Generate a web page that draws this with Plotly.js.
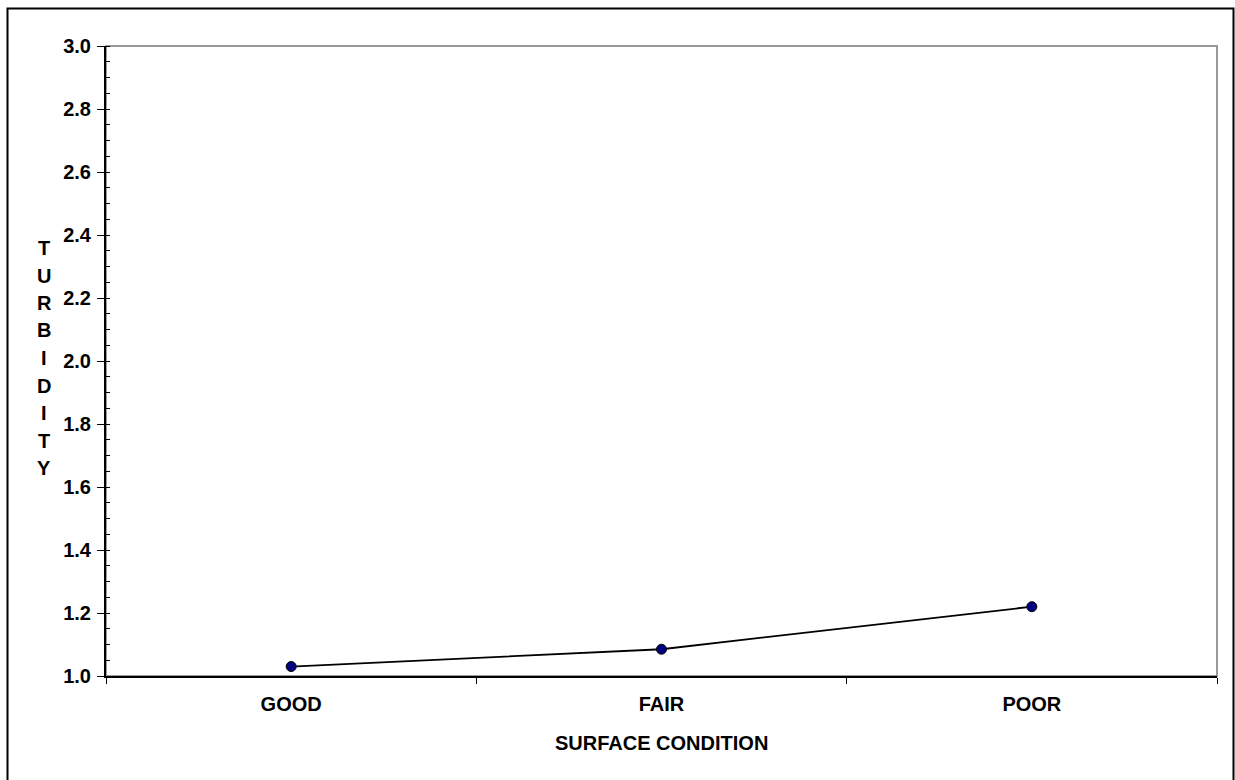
<!DOCTYPE html>
<html>
<head>
<meta charset="utf-8">
<script src="https://cdn.plot.ly/plotly-3.0.1.min.js"></script>
<style>
html,body{margin:0;padding:0;background:#fff;}
#chart{width:1235px;height:780px;}
</style>
</head>
<body>
<div id="chart"></div>
<script>
const categories = ["GOOD", "FAIR", "POOR"];
const turbidity = [1.03, 1.085, 1.22];
const xTitle = "SURFACE CONDITION";
const yTitle = "TURBIDITY";

const FONT = "Liberation Sans, Arial, sans-serif";
const FS = 20;

const trace = {
  x: categories,
  y: turbidity,
  type: "scatter",
  mode: "lines+markers",
  line: {color: "#000000", width: 1.8},
  marker: {color: "#000080", size: 10, line: {color: "#000000", width: 1}},
  hoverinfo: "x+y",
  showlegend: false
};

// vertical stacked y-axis title letters
const letters = yTitle.split("");
const annotations = letters.map((ch, i) => ({
  text: ch, xref: "paper", yref: "paper",
  x: (44 - 106) / 1111, y: (676 - (248 + i * 27.5)) / 630,
  xanchor: "center", yanchor: "middle", showarrow: false,
  font: {family: FONT, size: FS, color: "#000", weight: "bold"}
}));
annotations.push({
  text: xTitle, xref: "paper", yref: "paper",
  x: 0.5, y: (676 - 743) / 630, xanchor: "center", yanchor: "middle",
  showarrow: false,
  font: {family: FONT, size: FS, color: "#000", weight: "bold"}
});

const layout = {
  width: 1235, height: 780,
  margin: {l: 106, r: 18, t: 46, b: 104},
  paper_bgcolor: "#ffffff", plot_bgcolor: "#ffffff",
  font: {family: FONT, size: FS, color: "#000", weight: "bold"},
  xaxis: {
    type: "category", range: [-0.5, 2.5],
    tickson: "boundaries", ticks: "outside", ticklen: 6, tickcolor: "#000", tickwidth: 1,
    showline: true, linecolor: "#000", linewidth: 2,
    showgrid: false, zeroline: false,
    ticklabelstandoff: 9,
    tickfont: {family: FONT, size: FS, color: "#000", weight: "bold"}
  },
  yaxis: {
    range: [1, 3], dtick: 0.2, tick0: 1, tickformat: ".1f",
    ticks: "outside", ticklen: 7, tickcolor: "#000", tickwidth: 1,
    minor: {dtick: 0.05, ticks: "inside", ticklen: 4, tickcolor: "#000", tickwidth: 1, showgrid: false},
    showline: true, linecolor: "#000", linewidth: 2,
    showgrid: false, zeroline: false,
    ticklabelstandoff: 2,
    tickfont: {family: FONT, size: FS, color: "#000", weight: "bold"}
  },
  shapes: [
    {type: "rect", xref: "paper", yref: "paper", x0: 0, x1: 1, y0: 0, y1: 1,
     line: {color: "#999999", width: 2}, layer: "below"},
    {type: "path", xref: "paper", yref: "paper",
     path: "M " + ((7.5 - 106) / 1111) + "," + ((676 - 800) / 630) +
           " L " + ((7.5 - 106) / 1111) + "," + ((676 - 8.5) / 630) +
           " L " + ((1233.5 - 106) / 1111) + "," + ((676 - 8.5) / 630) +
           " L " + ((1233.5 - 106) / 1111) + "," + ((676 - 800) / 630),
     line: {color: "#000000", width: 2}}
  ],
  annotations: annotations
};

Plotly.newPlot("chart", [trace], layout, {displayModeBar: false});
</script>
</body>
</html>
